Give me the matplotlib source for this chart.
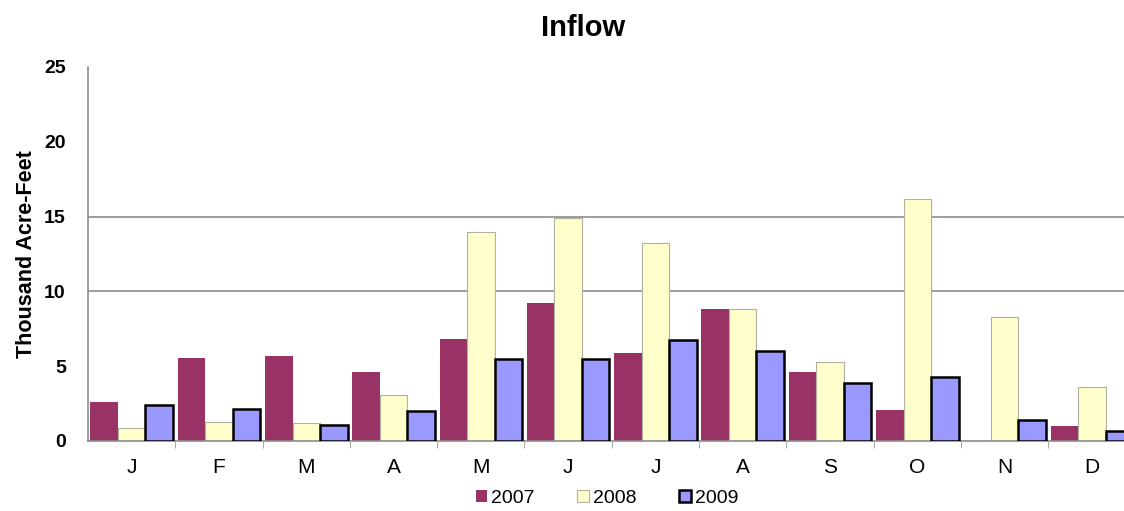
import numpy as np
import matplotlib.pyplot as plt

plt.rcParams['font.family'] = ['Liberation Sans', 'DejaVu Sans']

meses = ['J', 'F', 'M', 'A', 'M', 'J', 'J', 'A', 'S', 'O', 'N', 'D']
anos = ['2007', '2008', '2009']
v2007 = [2.6, 5.55, 5.65, 4.6, 6.85, 9.2, 5.85, 8.85, 4.6, 2.05, 0.0, 1.0]
v2008 = [0.9, 1.3, 1.2, 3.1, 13.95, 14.9, 13.25, 8.85, 5.3, 16.2, 8.3, 3.6]
v2009 = [2.4, 2.15, 1.1, 2.0, 5.45, 5.45, 6.73, 6.0, 3.85, 4.3, 1.38, 0.7]
grade = [10, 15]

fig = plt.figure(figsize=(11.24, 5.11), dpi=100)
ax = fig.add_axes([0.0783, 0.137, 0.932, 0.732])

x = np.arange(len(meses))
w = 0.315
ax.bar(x - w, v2007, w, color='#993366', label=anos[0], zorder=2)
ax.bar(x, v2008, w, color='#FFFFCC', edgecolor='#b0b0a0', linewidth=0.8, label=anos[1], zorder=2)
ax.bar(x + w, v2009, w, color='#9999FF', edgecolor='black', linewidth=1.8, label=anos[2], zorder=3)

for g in grade:
    ax.axhline(g, color='#8c8c8c', linewidth=1.2, zorder=1)

ax.set_xlim(-0.5, 11.5)
ax.set_ylim(0, 25)
ax.set_yticks([0, 5, 10, 15, 20, 25])
ax.set_yticklabels(['0', '5', '10', '15', '20', '25'], fontsize=14, fontweight='bold')
ax.tick_params(axis='y', length=0, pad=16)

ax.set_xticks(x)
ax.set_xticklabels(meses, fontsize=15)
ax.tick_params(axis='x', length=0, pad=12)
ax.set_xticks(np.arange(0.5, 11.5, 1), minor=True)
ax.tick_params(axis='x', which='minor', length=5, color='#999999')

for s in ['top', 'right']:
    ax.spines[s].set_visible(False)
ax.spines['left'].set_color('#8c8c8c')
ax.spines['bottom'].set_color('#8c8c8c')
ax.spines['left'].set_linewidth(1.2)
ax.spines['bottom'].set_linewidth(1.2)

ax.set_ylabel('Thousand Acre-Feet', fontsize=15.5, fontweight='bold', labelpad=5)
fig.text(0.519, 0.945, 'Inflow', ha='center', va='center', fontsize=21, fontweight='bold')

fig.legend(loc='center', bbox_to_anchor=(0.54, 0.025), ncol=3, frameon=False,
           fontsize=14, handlelength=0.6, handleheight=0.6, handletextpad=0.2,
           columnspacing=2.2)

fig.savefig('out.png', dpi=100)
